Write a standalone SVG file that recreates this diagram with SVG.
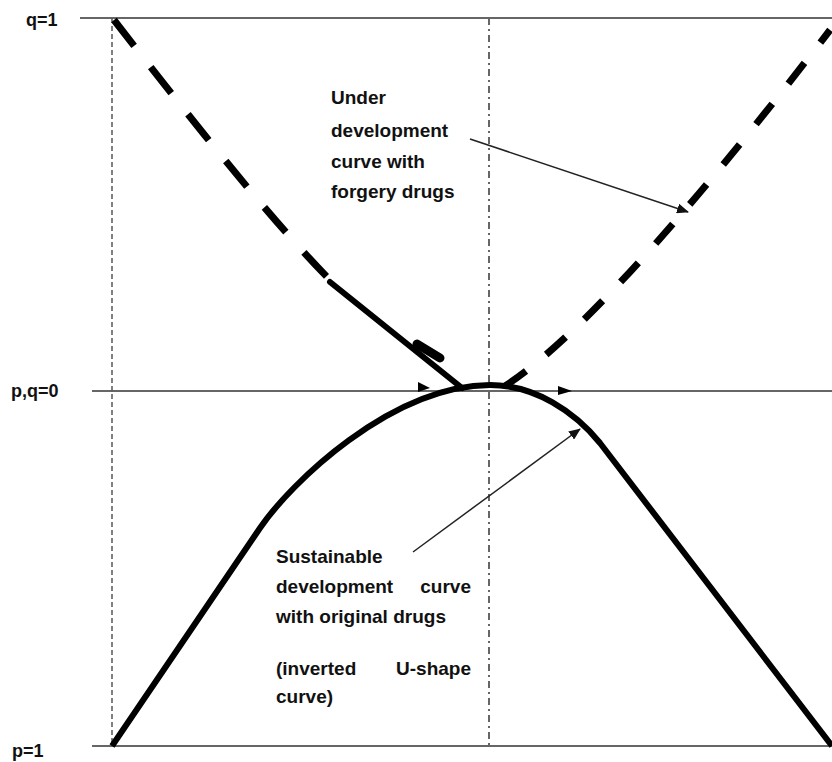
<svg xmlns="http://www.w3.org/2000/svg" width="832" height="762" viewBox="0 0 832 762">
<defs>
<style>
.axis{stroke:#333;stroke-width:1.6;fill:none}
.vdash{stroke:#555;stroke-width:1.5;stroke-dasharray:5 3;fill:none}
.vdashdot{stroke:#666;stroke-width:2;stroke-dasharray:7 4 2 4;fill:none}
.thickdash{stroke:#000;stroke-width:7;stroke-dasharray:33 27;fill:none}
.thick{stroke:#000;stroke-width:6;fill:none;stroke-linecap:round}
.ann{stroke:#222;stroke-width:1.5;fill:none}
text{font-family:"Liberation Sans",Arial,sans-serif;font-weight:bold;font-size:19px;fill:#111}
.lbl{font-size:18px}
</style>
<marker id="ah" markerWidth="12" markerHeight="10" refX="11" refY="5" orient="auto" markerUnits="userSpaceOnUse">
<path d="M0,0 L12,5 L0,10 z" fill="#111"/>
</marker>
</defs>
<rect width="832" height="762" fill="#fff"/>
<g id="axes">
<line class="axis" x1="80" y1="18" x2="832" y2="18"/>
<line class="axis" x1="92" y1="391" x2="832" y2="391"/>
<line class="axis" x1="92" y1="746" x2="832" y2="746"/>
<line class="vdash" x1="112" y1="18" x2="112" y2="746"/>
<line class="vdashdot" x1="489" y1="18" x2="489" y2="746"/>
<text class="lbl" x="26" y="26">q=1</text>
<text class="lbl" x="11" y="397">p,q=0</text>
<text class="lbl" x="12" y="757">p=1</text>
</g>
<g id="forgery-curve">
<path class="thickdash" d="M114,20 C180,105 270,220 335,285"/>
<path class="thick" d="M330,282 L462,388"/>
<path d="M417,344 L440,358" stroke="#000" stroke-width="9" stroke-linecap="round"/>
<path class="thickdash" style="stroke-dasharray:26 26" d="M505,386 Q607,320 830,30"/>
</g>
<g id="sustainable-curve">
<path class="thick" style="stroke-linecap:butt" d="M112,746 L260,528 C290,484 390,386 490,385 C535,385 575,412 600,443 L832,746"/>
<path d="M418,382 L430,388 L418,392 z" fill="#000"/>
<path d="M558,386 L572,391 L558,395 z" fill="#000"/>
</g>
<g id="connectors">
<line class="ann" x1="470" y1="139" x2="688" y2="212" marker-end="url(#ah)"/>
<line class="ann" x1="413" y1="552" x2="580" y2="429" marker-end="url(#ah)"/>
</g>
<g id="label-forgery">
<text x="331" y="104">Under</text>
<text x="331" y="137">development</text>
<text x="331" y="168">curve with</text>
<text x="331" y="198">forgery drugs</text>
</g>
<g id="label-sustainable">
<text x="276" y="563">Sustainable</text>
<text x="276" y="593">development</text>
<text x="471" y="593" text-anchor="end">curve</text>
<text x="276" y="623">with original drugs</text>
<text x="276" y="675">(inverted</text>
<text x="471" y="675" text-anchor="end">U-shape</text>
<text x="276" y="703">curve)</text>
</g>
</svg>
